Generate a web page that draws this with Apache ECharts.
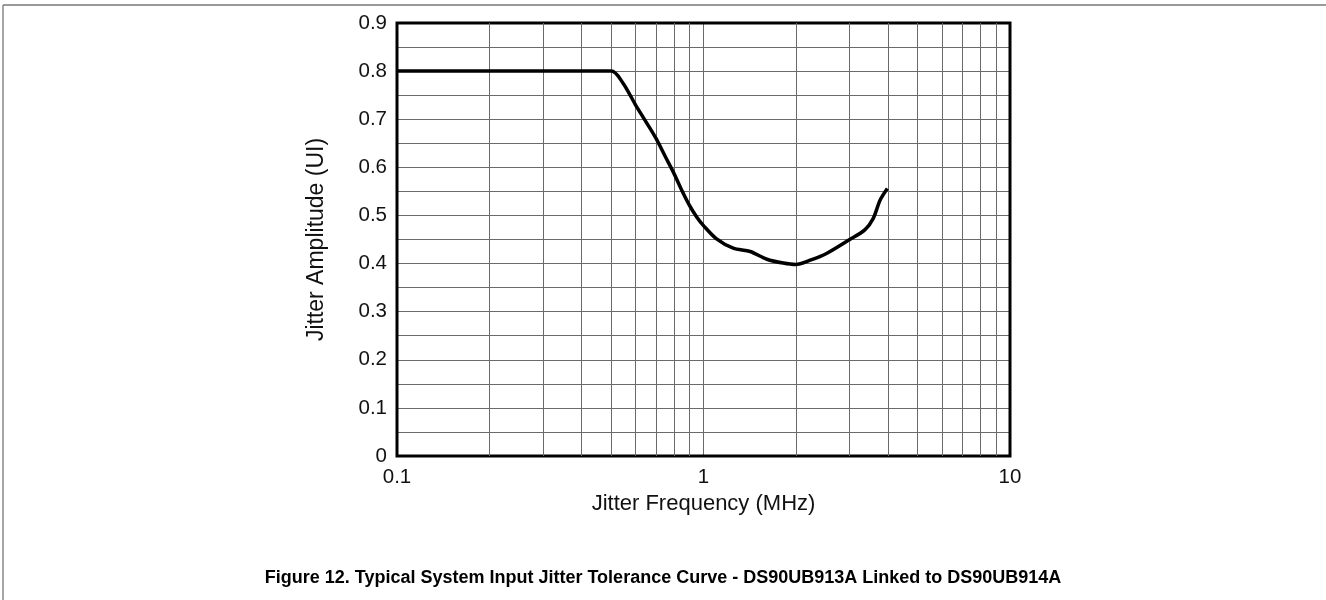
<!DOCTYPE html>
<html>
<head>
<meta charset="utf-8">
<title>Jitter Tolerance Curve</title>
<script src="https://cdn.jsdelivr.net/npm/echarts@6/dist/echarts.min.js"></script>
<style>
  html, body { margin: 0; padding: 0; background: #fff; }
  #chart { width: 1326px; height: 600px; }
</style>
</head>
<body>
<div id="chart"></div>
<script>
(function() {
    'use strict';

    // jitter frequency (MHz)
    var freqMHz = [0.1, 0.5, 0.545, 0.6, 0.653, 0.7, 0.751, 0.8, 0.85, 0.9, 0.95, 1.0,
        1.1, 1.25, 1.42, 1.61, 1.82, 2.0, 2.23, 2.52, 3.0, 3.36, 3.58, 3.77, 3.98];
    // jitter amplitude (UI)
    var amplitudeUI = [0.8, 0.8, 0.776, 0.73, 0.692, 0.66, 0.622, 0.588, 0.552, 0.521, 0.497, 0.479,
        0.452, 0.432, 0.425, 0.409, 0.401, 0.398, 0.407, 0.421, 0.45, 0.47, 0.494, 0.532, 0.556];

    // minor vertical grid lines of the log axis
    var xMinorLines = [0.2, 0.3, 0.4, 0.5, 0.6, 0.7, 0.8, 0.9, 2, 3, 4, 5, 6, 7, 8, 9];
    var xTickLabels = ['0.1', '1', '10'];

    var curve = freqMHz.map(function(f, i) { return [f, amplitudeUI[i]]; });
    var gridColor = '#6a6a6a';
    var axisFont = 'Liberation Sans, Arial, sans-serif';

    var chart = echarts.init(document.getElementById('chart'));
    chart.setOption({
        backgroundColor: '#fff',
        animation: false,
        grid: {
            left: 397, right: 316, top: 23, bottom: 144,
            show: true, borderColor: '#000', borderWidth: 3, backgroundColor: 'transparent', z: 5
        },
        xAxis: {
            type: 'log',
            logBase: 10,
            min: 0.1,
            max: 10,
            name: 'Jitter Frequency (MHz)',
            nameLocation: 'middle',
            nameGap: 36,
            nameTextStyle: { fontFamily: axisFont, fontSize: 22, color: '#111' },
            axisLine: { show: false },
            axisTick: { show: false },
            axisLabel: {
                fontFamily: axisFont, fontSize: 20.5, color: '#111', margin: 11,
                formatter: function(v) {
                    var s = String(+v.toPrecision(3));
                    return xTickLabels.indexOf(s) >= 0 ? s : '';
                }
            },
            splitLine: { show: true, lineStyle: { color: gridColor, width: 1 } }
        },
        yAxis: {
            type: 'value',
            min: 0,
            max: 0.9,
            interval: 0.1,
            name: 'Jitter Amplitude (UI)',
            nameLocation: 'middle',
            nameGap: 69,
            nameTextStyle: { fontFamily: axisFont, fontSize: 23, color: '#111' },
            axisLine: { show: false },
            axisTick: { show: false },
            axisLabel: {
                fontFamily: axisFont, fontSize: 20.5, color: '#111', margin: 10,
                formatter: function(v) { return String(+v.toFixed(1)); }
            },
            splitLine: { show: true, lineStyle: { color: gridColor, width: 1 } },
            minorTick: { show: false, splitNumber: 2 },
            minorSplitLine: { show: true, lineStyle: { color: gridColor, width: 1 } }
        },
        series: [{
            type: 'line',
            data: curve,
            smooth: 0.3,
            showSymbol: false,
            symbol: 'none',
            z: 10,
            lineStyle: { color: '#000', width: 3.5 },
            markLine: {
                silent: true,
                symbol: ['none', 'none'],
                label: { show: false },
                animation: false,
                lineStyle: { color: gridColor, width: 1, type: 'solid' },
                data: xMinorLines.map(function(x) { return { xAxis: x }; })
            }
        }],
        graphic: [
            { type: 'line', shape: { x1: 3, y1: 5, x2: 1326, y2: 5 }, style: { stroke: '#777', lineWidth: 1.5 } },
            { type: 'line', shape: { x1: 3, y1: 5, x2: 3, y2: 600 }, style: { stroke: '#888', lineWidth: 1.5 } },
            {
                type: 'text', left: 'center', top: 569,
                style: {
                    text: 'Figure 12. Typical System Input Jitter Tolerance Curve - DS90UB913A Linked to DS90UB914A',
                    font: 'bold 18px Liberation Sans, Arial, sans-serif', fill: '#000'
                }
            }
        ]
    });
})();
</script>
</body>
</html>
